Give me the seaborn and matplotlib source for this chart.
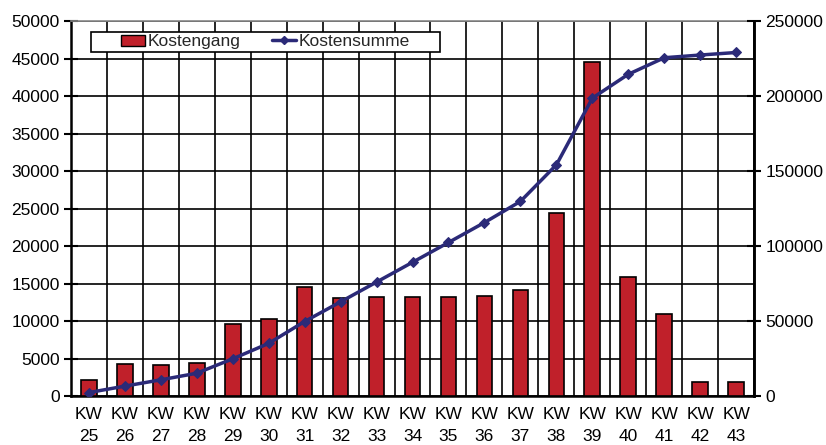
import numpy as np
import pandas as pd
import matplotlib
matplotlib.use("Agg")
import matplotlib.pyplot as plt
import seaborn as sns
from matplotlib.patches import Patch, Rectangle
from matplotlib.lines import Line2D

weeks = ["KW\n25", "KW\n26", "KW\n27", "KW\n28", "KW\n29", "KW\n30", "KW\n31", "KW\n32",
         "KW\n33", "KW\n34", "KW\n35", "KW\n36", "KW\n37", "KW\n38", "KW\n39", "KW\n40",
         "KW\n41", "KW\n42", "KW\n43"]
kostengang = [2200, 4300, 4200, 4400, 9600, 10300, 14600, 13100, 13200, 13200, 13200,
              13300, 14100, 24400, 44500, 15900, 11000, 1900, 1900]
kostensumme = [2300, 6600, 10800, 15200, 24800, 35100, 49700, 62800, 76000, 89200,
               102400, 115700, 129800, 154200, 198700, 214600, 225600, 227400, 229100]

sns.set_theme(style="white")
plt.rcParams['font.family'] = ['Liberation Sans', 'DejaVu Sans']

FS = 12.5
BAR_COLOR = "#C0202A"
LINE_COLOR = "#2B2A78"

df = pd.DataFrame({"week": weeks, "Kostengang": kostengang, "Kostensumme": kostensumme})
df["pos"] = np.arange(len(weeks))

fig = plt.figure(figsize=(8.26, 4.45), dpi=100)
ax = fig.add_axes([0.0856, 0.110, 0.8276, 0.8425])

sns.barplot(data=df, x="week", y="Kostengang", color=BAR_COLOR, saturation=1,
            width=0.44, edgecolor="black", linewidth=1.2, ax=ax, zorder=3)

ax.set_xlim(-0.5, len(weeks) - 0.5)
ax.set_ylim(0, 50000)
ax.set_yticks(np.arange(0, 50001, 5000))
ax.set_xticks(np.arange(len(weeks)))
ax.set_xticklabels(weeks, linespacing=1.55, fontsize=FS)
ax.set_xticks(np.arange(-0.5, len(weeks), 1), minor=True)
ax.set_axisbelow(True)
ax.grid(True, which="major", axis="y", color="black", linewidth=1.2)
ax.grid(True, which="minor", axis="x", color="black", linewidth=1.2)
ax.grid(False, which="major", axis="x")
ax.set_xlabel("")
ax.set_ylabel("")
ax.tick_params(axis="x", which="major", length=0, labelsize=FS, pad=8, colors="black")
ax.tick_params(axis="x", which="minor", length=5, width=1.2, direction="out", color="black")
ax.tick_params(axis="y", which="major", length=10, width=1.5, direction="inout",
               labelsize=FS, colors="black", pad=3)
for s in ["left", "bottom", "right"]:
    ax.spines[s].set_color("black")
    ax.spines[s].set_linewidth(1.8)
ax.spines["top"].set_color("#888888")
ax.spines["top"].set_linewidth(1.2)

ax2 = ax.twinx()
sns.lineplot(data=df, x="pos", y="Kostensumme", color=LINE_COLOR, linewidth=2.5,
             marker="D", markersize=5, markeredgecolor=LINE_COLOR, ax=ax2)
ax2.set_ylim(0, 250000)
ax2.set_yticks(np.arange(0, 250001, 50000))
ax2.set_xlim(-0.5, len(weeks) - 0.5)
ax2.set_ylabel("")
ax2.set_xlabel("")
ax2.tick_params(axis="y", length=10, width=1.5, direction="inout", labelsize=FS,
                colors="black", pad=3)
for s in ["left", "bottom", "top"]:
    ax2.spines[s].set_visible(False)
ax2.spines["right"].set_color("black")
ax2.spines["right"].set_linewidth(1.8)

# legend frame box
box = Rectangle((0.029, 0.919), 0.511, 0.052, transform=ax2.transAxes,
                facecolor="white", edgecolor="black", linewidth=1.2, zorder=4)
ax2.add_patch(box)
handles = [Patch(facecolor=BAR_COLOR, edgecolor="black", linewidth=1.0),
           Line2D([0], [0], color=LINE_COLOR, linewidth=2.5, marker="D", markersize=4)]
leg = ax2.legend(handles, ["Kostengang", "Kostensumme"], ncol=2,
                 loc="center", bbox_to_anchor=(0.029 + 0.511 / 2, 0.919 + 0.026),
                 frameon=False, fontsize=FS, borderpad=0.0,
                 handlelength=1.4, handleheight=0.6, handletextpad=0.15,
                 columnspacing=1.8, borderaxespad=0)
leg.set_zorder(5)

fig.savefig("out.png", dpi=100)
